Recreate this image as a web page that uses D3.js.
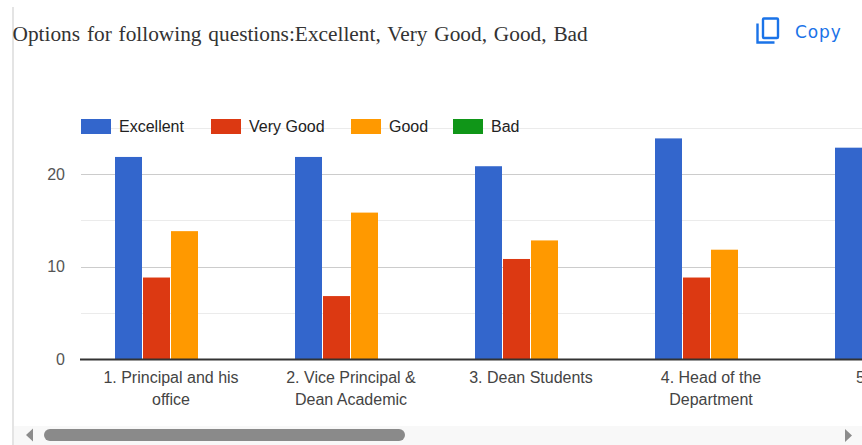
<!DOCTYPE html>
<html><head><meta charset="utf-8">
<script src="https://cdn.jsdelivr.net/npm/d3@7/dist/d3.min.js"></script>
<style>html,body{margin:0;padding:0;background:#fff;overflow:hidden}svg{display:block}</style>
</head><body><div id="c"></div>
<script>
const titleText = "Options for following questions:Excellent, Very Good, Good, Bad";
const copyText = "Copy";
const seriesNames = ["Excellent", "Very Good", "Good", "Bad"];
const seriesColors = ["#3366cc", "#dc3912", "#ff9900", "#109618"];
const categories = [["1. Principal and his","office"],["2. Vice Principal &","Dean Academic"],["3. Dean Students"],["4. Head of the","Department"],["5."]];
const excellent = [22, 22, 21, 24, 23];
const veryGood = [9, 7, 11, 9, null];
const good = [14, 16, 13, 12, null];
const bad = [0, 0, 0, 0, null];
const seriesValues = [excellent, veryGood, good, bad];
const majorTicks = [0, 10, 20];
const minorTicks = [5, 15, 25];

const W = 862, H = 445;
const svg = d3.select("#c").append("svg").attr("width", W).attr("height", H);
const sans = "'Liberation Sans', Arial, sans-serif";

svg.append("rect").attr("x", 12).attr("y", 7).attr("width", 2).attr("height", 438).attr("fill", "#e4e4e4");
svg.append("text").attr("x", 12.5).attr("y", 41).attr("font-family", "'Liberation Serif', serif")
  .attr("font-size", 21.33).attr("word-spacing", 1.5).attr("fill", "#333333").text(titleText);

const ic = svg.append("g").attr("fill", "none").attr("stroke", "#1a73e8").attr("stroke-width", 2.4);
ic.append("rect").attr("x", 763).attr("y", 18.5).attr("width", 15).attr("height", 19.5).attr("rx", 1);
ic.append("path").attr("d", "M757.5 23.5V42.5H774.5");
svg.append("text").attr("x", 795).attr("y", 38).attr("font-family", "'DejaVu Sans', sans-serif")
  .attr("font-size", 17).attr("letter-spacing", 0.9).attr("fill", "#1a73e8").text(copyText);

const clip = svg.append("defs").append("clipPath").attr("id", "plot");
clip.append("rect").attr("x", 0).attr("y", 100).attr("width", W).attr("height", 320);

const root = svg.append("g").attr("clip-path", "url(#plot)");
const x = d3.scaleBand().domain(d3.range(categories.length)).range([81, 981]);
const x1 = d3.scaleBand().domain(d3.range(seriesNames.length)).range([34, 146]);
const y = d3.scaleLinear().domain([0, 20]).range([359.5, 174]);

root.selectAll("line.minor").data(minorTicks).join("line").attr("class", "minor")
  .attr("x1", 81).attr("x2", W).attr("y1", d => Math.round(y(d)) + .5).attr("y2", d => Math.round(y(d)) + .5)
  .attr("stroke", "#ebebeb");
root.selectAll("line.major").data(majorTicks.slice(1)).join("line").attr("class", "major")
  .attr("x1", 81).attr("x2", W).attr("y1", d => Math.round(y(d)) + .5).attr("y2", d => Math.round(y(d)) + .5)
  .attr("stroke", "#cccccc");

seriesValues.forEach((vals, s) => {
  root.selectAll("rect.s" + s).data(vals).join("rect").attr("class", "s" + s)
    .attr("x", (d, i) => x(i) + x1(s))
    .attr("width", x1.bandwidth() - 1)
    .attr("y", d => y(d) + 1.5)
    .attr("height", d => Math.max(0, y(0) - y(d) - 1.5))
    .attr("fill", seriesColors[s]);
});

root.append("rect").attr("x", 80).attr("y", y(0) - 1).attr("width", W - 80).attr("height", 2).attr("fill", "#333333");

root.selectAll("text.yl").data(majorTicks).join("text").attr("class", "yl")
  .attr("x", 65).attr("y", d => y(d) + 5.5).attr("text-anchor", "end")
  .attr("font-family", sans).attr("font-size", 16).attr("fill", "#555555").text(d => d);

const xl = root.selectAll("text.xl").data(categories).join("text").attr("class", "xl")
  .attr("text-anchor", "middle").attr("font-family", sans).attr("font-size", 16).attr("fill", "#444444");
xl.selectAll("tspan").data(d => d).join("tspan")
  .attr("y", (d, i) => 383 + i * 22)
  .text(d => d);
xl.each(function (d, i) {
  const last = i === categories.length - 1;
  d3.select(this).attr("text-anchor", last ? "start" : "middle")
    .selectAll("tspan").attr("x", last ? 856 : x(i) + x.bandwidth() / 2);
});

const lgX = [81, 211, 351, 453];
const lg = root.selectAll("g.lg").data(seriesNames).join("g").attr("class", "lg")
  .attr("transform", (d, i) => `translate(${lgX[i]},119)`);
lg.append("rect").attr("width", 30).attr("height", 15).attr("fill", (d, i) => seriesColors[i]);
lg.append("text").attr("x", 38).attr("y", 13).attr("font-family", sans).attr("font-size", 16)
  .attr("fill", "#222222").text(d => d);

svg.append("rect").attr("x", 14).attr("y", 426).attr("width", W - 14).attr("height", 19).attr("fill", "#f8f8f8");
svg.append("path").attr("d", "M33 428.5L26 435L33 441.5Z").attr("fill", "#8c8c8c");
svg.append("path").attr("d", "M845 429L852 435.5L845 442Z").attr("fill", "#8c8c8c");
svg.append("rect").attr("x", 44).attr("y", 429).attr("width", 361).attr("height", 12).attr("rx", 6).attr("fill", "#8a8a8a");
</script></body></html>
